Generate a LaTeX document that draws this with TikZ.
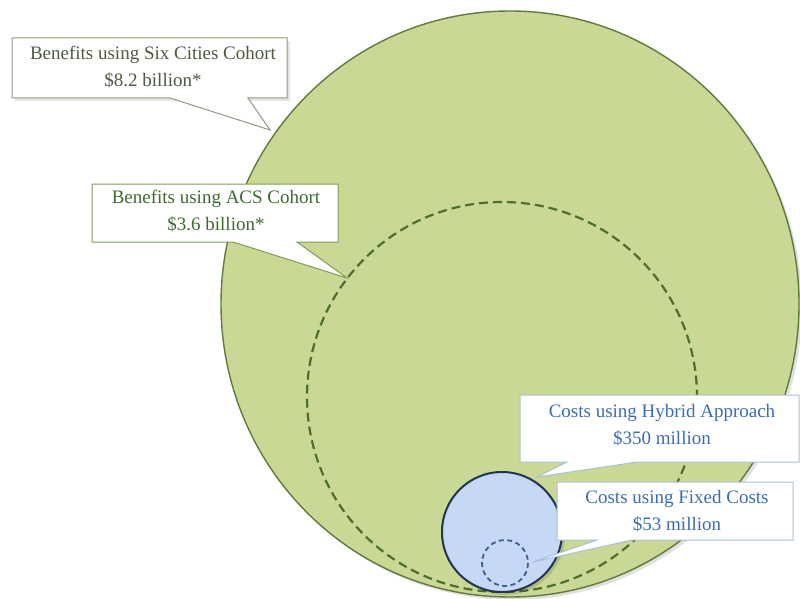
\documentclass[tikz,border=0pt]{standalone}
\usepackage{fontspec}
\setmainfont{Liberation Serif}
\usetikzlibrary{calc}
\definecolor{biggreen}{HTML}{C9D995}
\definecolor{bigedge}{HTML}{5E7A3C}
\definecolor{dashgreen}{HTML}{4F6E2C}
\definecolor{bluefill}{HTML}{C7D7F6}
\definecolor{blueedge}{HTML}{1F3550}
\definecolor{smalldash}{HTML}{3E5F8E}
\definecolor{txtgray}{HTML}{4E5A42}
\definecolor{txtgreen}{HTML}{3F6A2E}
\definecolor{txtblue}{HTML}{3B6DB3}
\definecolor{edgegray}{HTML}{8F9C82}
\definecolor{edgegreen}{HTML}{7E9C58}
\definecolor{edgeblue}{HTML}{A9BFD8}
\tikzset{
  calloutbox/.style={fill=white, line width=1pt},
  lbl/.style={align=center, font=\fontsize{19}{27}\selectfont, inner sep=0pt},
  shadowfill/.style={fill=black, opacity=0.12},
}
\begin{document}
\begin{tikzpicture}[x=1pt,y=-1pt]
\useasboundingbox (0,0) rectangle (800,599);
% big circle (Six Cities)
\fill[shadowfill] (513,307) ellipse [x radius=289, y radius=293];
\filldraw[fill=biggreen, draw=bigedge, line width=1.4pt] (510,304) ellipse [x radius=289, y radius=293];
% ACS dashed circle
\draw[dashgreen, line width=2.2pt, dash pattern=on 9pt off 5pt] (502,397) circle [radius=195];

% callout 1
\coordinate (c1nw) at (12,38);
\coordinate (c1se) at (287,98);
\coordinate (c1tip) at (270,130);
\fill[black, opacity=0.10] ($(c1nw)+(3,3)$) rectangle ($(c1se)+(3,3)$);
\filldraw[calloutbox, draw=edgegray] (c1nw) -| (c1se) -- (248,98) -- (c1tip) -- (170,98) -| (c1nw) -- cycle;
\node[lbl, text=txtgray] (t1) at (153,67) {Benefits using Six Cities Cohort\\\$8.2 billion*};

% callout 2
\coordinate (c2nw) at (92,184);
\coordinate (c2se) at (338,242);
\coordinate (c2tip) at (347,278);
\filldraw[calloutbox, draw=edgegreen] (c2nw) -| (c2se) -- (297,242) -- (c2tip) -- (233,242) -| (c2nw) -- cycle;
\node[lbl, text=txtgreen] (t2) at (216,211) {Benefits using ACS Cohort\\\$3.6 billion*};

% blue circle (Hybrid)
\fill[shadowfill] (505,535) circle [radius=60];
\filldraw[fill=bluefill, draw=blueedge, line width=2pt] (502,532) circle [radius=60];
\draw[smalldash, line width=1.8pt, dash pattern=on 5pt off 3.5pt] (505,563) circle [radius=23];

% callout 3
\coordinate (c3nw) at (520,395);
\coordinate (c3se) at (799,462);
\coordinate (c3tip) at (537,477);
\filldraw[calloutbox, draw=edgeblue] (c3nw) -| (c3se) -- (637,462) -- (c3tip) -- (567,462) -| (c3nw) -- cycle;
\node[lbl, text=txtblue] (t3) at (662,425) {Costs using Hybrid Approach\\\$350 million};

% callout 4
\coordinate (c4nw) at (557,482);
\coordinate (c4se) at (793,540);
\coordinate (c4tip) at (533,562);
\filldraw[calloutbox, draw=edgeblue] (c4nw) -| (c4se) -- (632,540) -- (c4tip) -- (597,540) -| (c4nw) -- cycle;
\node[lbl, text=txtblue] (t4) at (677,511) {Costs using Fixed Costs\\\$53 million};
\end{tikzpicture}
\end{document}
